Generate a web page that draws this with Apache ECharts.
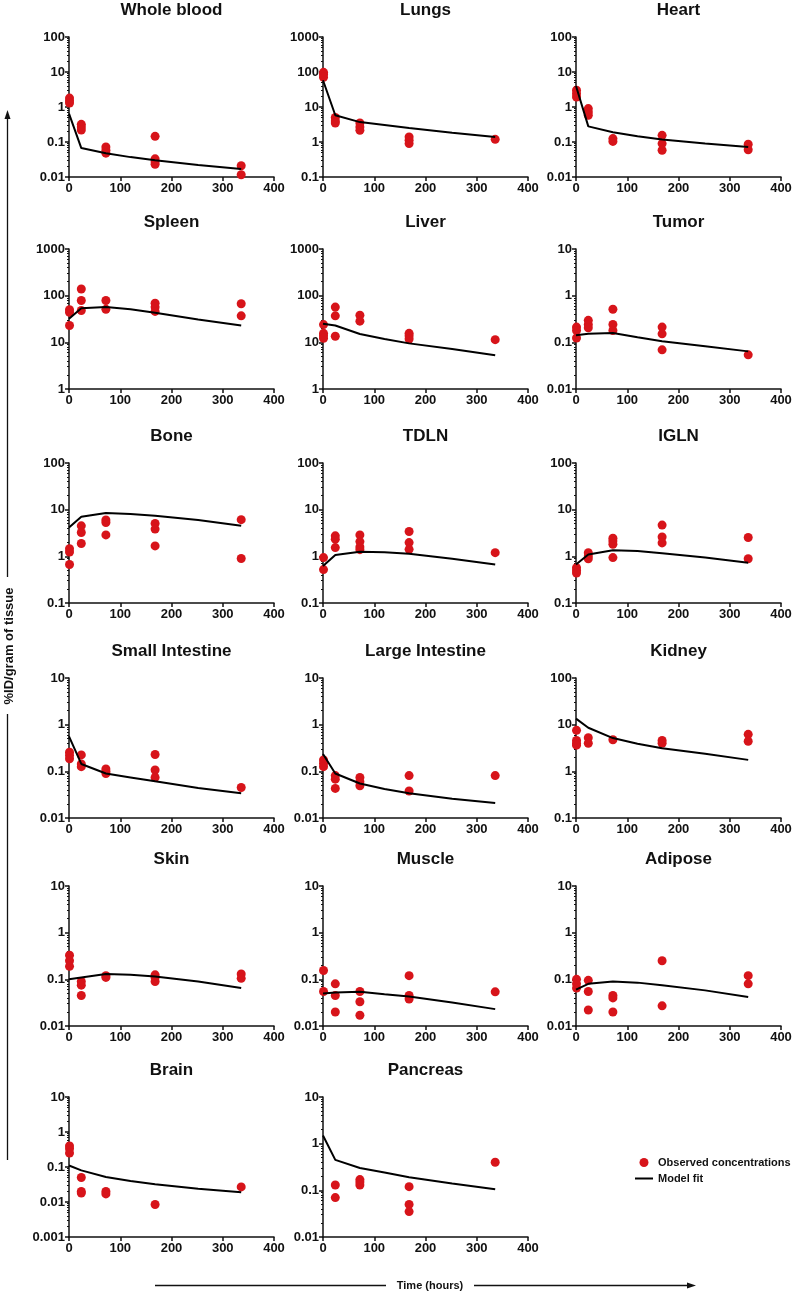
<!DOCTYPE html>
<html>
<head>
<meta charset="utf-8">
<title>Biodistribution</title>
<script src="https://cdn.jsdelivr.net/npm/echarts@6/dist/echarts.min.js"></script>
<style>
  html, body { margin: 0; padding: 0; background: #fff; }
  #chart { width: 795px; height: 1297px; }
</style>
</head>
<body>
<div id="chart"></div>
<script>
// --- data ---
const tissues = ['Whole blood', 'Lungs', 'Heart', 'Spleen', 'Liver', 'Tumor', 'Bone', 'TDLN', 'IGLN',
  'Small Intestine', 'Large Intestine', 'Kidney', 'Skin', 'Muscle', 'Adipose', 'Brain', 'Pancreas'];
const obsTimes = [1, 24, 72, 168, 336];
const fitTimes = [0, 24, 72, 120, 168, 252, 336];
const yMins = [0.01, 0.1, 0.01, 1, 1, 0.01, 0.1, 0.1, 0.1, 0.01, 0.01, 0.1, 0.01, 0.01, 0.01, 0.001, 0.01];
const yMaxs = [100, 1000, 100, 1000, 1000, 10, 100, 100, 100, 10, 10, 100, 10, 10, 10, 10, 10];
const xTicks = [0, 100, 200, 300, 400];

// observed concentrations, one inner list per time point in obsTimes
const wholeBloodObs = [[1.8, 1.5, 1.3], [0.32, 0.27, 0.22], [0.072, 0.058, 0.048], [0.145, 0.033, 0.027, 0.023], [0.021, 0.0116]];
const lungsObs = [[98, 85, 71], [5.0, 4.0, 3.5], [3.5, 2.7, 2.15], [1.39, 1.12, 0.9], [1.19]];
const heartObs = [[3.0, 2.4, 1.93], [0.9, 0.72, 0.58], [0.125, 0.104], [0.155, 0.09, 0.058], [0.086, 0.06]];
const spleenObs = [[50, 44, 23], [139, 79, 48], [79, 51], [69, 57, 46], [67, 37]];
const liverObs = [[24, 15.6, 13.9, 12.2], [57, 37, 13.5], [38, 28.4], [15.6, 13.9, 11.8], [11.4]];
const tumorObs = [[0.212, 0.179, 0.124], [0.296, 0.242, 0.205], [0.513, 0.242, 0.179], [0.212, 0.152, 0.069], [0.054]];
const boneObs = [[1.46, 1.24, 0.67], [4.5, 3.24, 1.88], [6.0, 5.3, 2.88], [5.07, 3.83, 1.67], [6.1, 0.9]];
const tdlnObs = [[0.94, 0.52], [2.75, 2.33, 1.54], [2.88, 2.07, 1.59, 1.39], [3.4, 1.97, 1.41], [1.2]];
const iglnObs = [[0.57, 0.5, 0.44], [1.2, 1.02, 0.89], [2.45, 2.14, 1.82, 0.94], [4.67, 2.6, 1.94], [2.53, 0.89]];
const smallIntObs = [[0.257, 0.218, 0.185], [0.225, 0.144, 0.126], [0.112, 0.1, 0.09], [0.229, 0.107, 0.074], [0.045]];
const largeIntObs = [[0.176, 0.149, 0.126], [0.081, 0.068, 0.043], [0.074, 0.06, 0.049], [0.081, 0.038], [0.081]];
const kidneyObs = [[7.55, 4.6, 4.0, 3.64], [5.25, 4.0], [4.75], [4.6, 4.0], [6.2, 4.4]];
const skinObs = [[0.33, 0.25, 0.19], [0.09, 0.075, 0.045], [0.12, 0.11], [0.125, 0.11, 0.09], [0.13, 0.105]];
const muscleObs = [[0.155, 0.055], [0.08, 0.045, 0.02], [0.055, 0.033, 0.017], [0.12, 0.045, 0.038], [0.054]];
const adiposeObs = [[0.1, 0.08, 0.065], [0.095, 0.055, 0.022], [0.045, 0.04, 0.02], [0.25, 0.027], [0.12, 0.08]];
const brainObs = [[0.4, 0.33, 0.25], [0.05, 0.02, 0.018], [0.02, 0.017], [0.0085], [0.027]];
const pancreasObs = [[], [0.13, 0.07], [0.17, 0.15, 0.13], [0.12, 0.05, 0.035], [0.4]];

// model fit, one value per time point in fitTimes
const wholeBloodFit = [0.65, 0.067, 0.048, 0.037, 0.03, 0.022, 0.017];
const lungsFit = [58, 5.8, 3.7, 3.05, 2.5, 1.85, 1.4];
const heartFit = [4, 0.28, 0.19, 0.145, 0.117, 0.09, 0.072];
const spleenFit = [32, 54, 57, 51, 43, 31, 23];
const liverFit = [25, 23, 15.1, 11.8, 9.5, 7.2, 5.3];
const tumorFit = [0.142, 0.152, 0.159, 0.128, 0.105, 0.082, 0.064];
const boneFit = [4.15, 7.06, 8.5, 8.05, 7.4, 6.0, 4.5];
const tdlnFit = [0.62, 1.07, 1.26, 1.22, 1.14, 0.89, 0.67];
const iglnFit = [0.67, 1.1, 1.35, 1.3, 1.16, 0.94, 0.73];
const smallIntFit = [0.56, 0.144, 0.09, 0.074, 0.061, 0.044, 0.034];
const largeIntFit = [0.236, 0.09, 0.055, 0.042, 0.034, 0.026, 0.021];
const kidneyFit = [13.5, 8.6, 5.16, 3.9, 3.14, 2.37, 1.76];
const skinFit = [0.1, 0.11, 0.13, 0.125, 0.115, 0.09, 0.065];
const muscleFit = [0.05, 0.052, 0.054, 0.048, 0.043, 0.032, 0.023];
const adiposeFit = [0.06, 0.08, 0.09, 0.085, 0.075, 0.058, 0.042];
const brainFit = [0.11, 0.08, 0.052, 0.04, 0.032, 0.024, 0.019];
const pancreasFit = [1.5, 0.45, 0.3, 0.24, 0.19, 0.14, 0.105];

const observed = [wholeBloodObs, lungsObs, heartObs, spleenObs, liverObs, tumorObs, boneObs, tdlnObs, iglnObs,
  smallIntObs, largeIntObs, kidneyObs, skinObs, muscleObs, adiposeObs, brainObs, pancreasObs];
const fitted = [wholeBloodFit, lungsFit, heartFit, spleenFit, liverFit, tumorFit, boneFit, tdlnFit, iglnFit,
  smallIntFit, largeIntFit, kidneyFit, skinFit, muscleFit, adiposeFit, brainFit, pancreasFit];

// --- layout ---
const colLeft = [69, 323, 576];
const rowTop = [37, 249, 463, 678, 886, 1097];
const plotW = 205;
const plotH = 140;
const FONT = "'Liberation Sans', Arial, sans-serif";
const RED = '#d7141a';

const chart = echarts.init(document.getElementById('chart'));

const grids = [], xAxes = [], yAxes = [], titles = [], series = [];

tissues.forEach((name, i) => {
  const left = colLeft[i % 3];
  const top = rowTop[Math.floor(i / 3)];
  grids.push({ left: left, top: top, width: plotW, height: plotH });
  titles.push({
    text: name,
    left: left + plotW / 2,
    top: top - 35,
    textAlign: 'center',
    padding: 0,
    textStyle: { fontFamily: FONT, fontWeight: 'bold', fontSize: 17, color: '#111' }
  });
  xAxes.push({
    gridIndex: i,
    type: 'value',
    min: xTicks[0],
    max: xTicks[xTicks.length - 1],
    interval: 100,
    axisLine: { show: true, lineStyle: { color: '#111', width: 1.5 } },
    axisTick: { show: true, inside: false, length: 4, lineStyle: { color: '#111', width: 1.5 } },
    axisLabel: { margin: 5, fontFamily: FONT, fontWeight: 'bold', fontSize: 13, color: '#111' },
    splitLine: { show: false }
  });
  yAxes.push({
    gridIndex: i,
    type: 'log',
    logBase: 10,
    min: yMins[i],
    max: yMaxs[i],
    axisLine: { show: true, onZero: false, lineStyle: { color: '#111', width: 1.5 } },
    axisTick: { show: true, inside: false, length: 4, lineStyle: { color: '#111', width: 1.5 } },
    minorTick: { show: true, splitNumber: 9, length: 2, lineStyle: { color: '#111', width: 1 } },
    axisLabel: {
      margin: 4, fontFamily: FONT, fontWeight: 'bold', fontSize: 13, color: '#111',
      formatter: v => String(+Number(v).toPrecision(1))
    },
    splitLine: { show: false },
    minorSplitLine: { show: false }
  });

  const pts = [];
  observed[i].forEach((vals, k) => vals.forEach(v => pts.push([obsTimes[k], v])));
  series.push({
    name: 'Observed concentrations',
    type: 'scatter',
    xAxisIndex: i,
    yAxisIndex: i,
    symbol: 'circle',
    symbolSize: 9,
    itemStyle: { color: RED, opacity: 1 },
    data: pts,
    z: 3
  });
  series.push({
    name: 'Model fit',
    type: 'line',
    xAxisIndex: i,
    yAxisIndex: i,
    symbol: 'none',
    lineStyle: { color: '#000', width: 2 },
    itemStyle: { color: '#000' },
    data: fitTimes.map((t, k) => [t, fitted[i][k]]),
    z: 4
  });
});

const option = {
  backgroundColor: '#fff',
  animation: false,
  title: titles,
  grid: grids,
  xAxis: xAxes,
  yAxis: yAxes,
  series: series,
  legend: {
    orient: 'vertical',
    left: 630,
    top: 1152,
    itemWidth: 18,
    itemHeight: 9,
    itemGap: 5,
    textStyle: { fontFamily: FONT, fontWeight: 'bold', fontSize: 11, color: '#111' },
    data: [
      { name: 'Observed concentrations', icon: 'circle' },
      { name: 'Model fit', icon: 'path://M0,0L18,0L18,2L0,2Z', itemStyle: { color: '#000' } }
    ]
  },
  graphic: [
    // y axis title with arrow
    { type: 'line', shape: { x1: 7.5, y1: 118, x2: 7.5, y2: 577 }, style: { stroke: '#111', lineWidth: 1.3 } },
    { type: 'polygon', shape: { points: [[7.5, 110], [4.5, 119], [10.5, 119]] }, style: { fill: '#111' } },
    { type: 'line', shape: { x1: 7.5, y1: 714, x2: 7.5, y2: 1160 }, style: { stroke: '#111', lineWidth: 1.3 } },
    {
      type: 'text', x: 9, y: 646, rotation: Math.PI / 2,
      style: { text: '%ID/gram of tissue', fill: '#111', font: 'bold 13px ' + FONT, textAlign: 'center', textVerticalAlign: 'middle' }
    },
    // x axis title with arrow
    { type: 'line', shape: { x1: 155, y1: 1285.5, x2: 386, y2: 1285.5 }, style: { stroke: '#111', lineWidth: 1.3 } },
    { type: 'line', shape: { x1: 474, y1: 1285.5, x2: 688, y2: 1285.5 }, style: { stroke: '#111', lineWidth: 1.3 } },
    { type: 'polygon', shape: { points: [[696, 1285.5], [687, 1282.5], [687, 1288.5]] }, style: { fill: '#111' } },
    {
      type: 'text', x: 430, y: 1285.5,
      style: { text: 'Time (hours)', fill: '#111', font: 'bold 11px ' + FONT, textAlign: 'center', textVerticalAlign: 'middle' }
    }
  ]
};

chart.setOption(option);
</script>
</body>
</html>
